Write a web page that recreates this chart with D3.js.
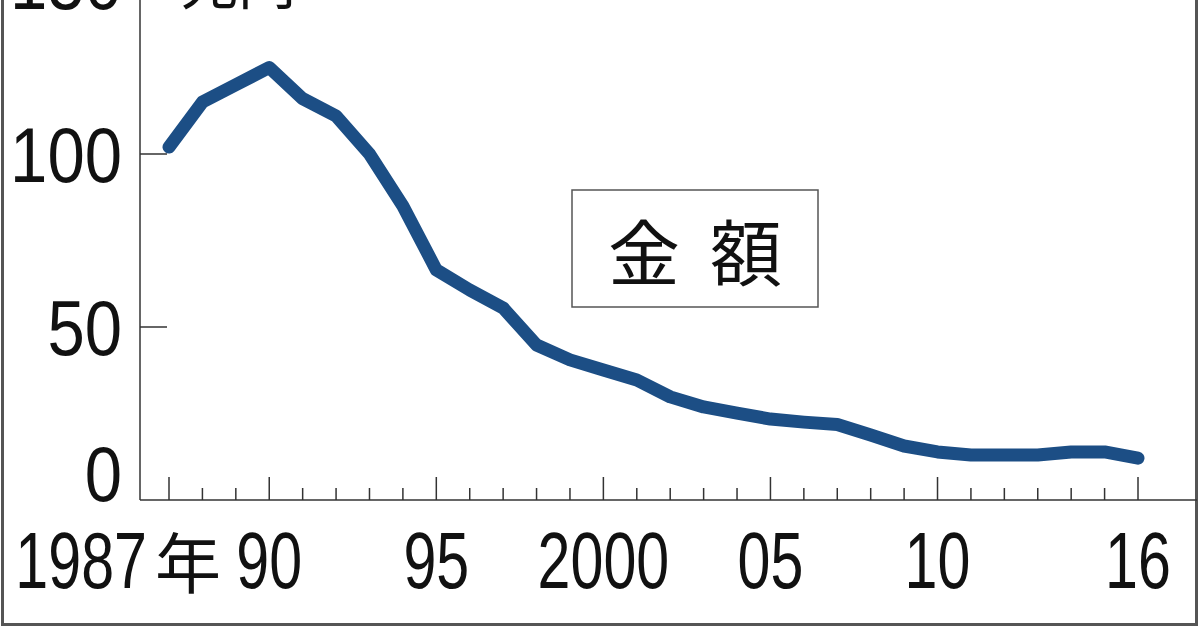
<!DOCTYPE html>
<html>
<head>
<meta charset="utf-8">
<script src="https://cdn.jsdelivr.net/npm/d3@7"></script>
<style>
  body { margin: 0; background: #fff; }
  svg { display: block; }
</style>
</head>
<body>
<div id="vis-container"></div>
<script>
// data (兆円)
const years = [1987, 1988, 1989, 1990, 1991, 1992, 1993, 1994, 1995, 1996,
  1997, 1998, 1999, 2000, 2001, 2002, 2003, 2004, 2005, 2006,
  2007, 2008, 2009, 2010, 2011, 2012, 2013, 2014, 2015, 2016];
const amounts = [102, 115, 120, 125, 116, 111, 100, 85, 66.5, 60.7,
  55.5, 44.8, 40.5, 37.6, 34.7, 29.8, 26.9, 25.1, 23.4, 22.5,
  21.8, 18.8, 15.6, 13.9, 13, 13, 13, 13.9, 13.9, 12.1];
const yTicks = [0, 50, 100, 150];
const majorYears = [1987, 1990, 1995, 2000, 2005, 2010, 2016];
const xLabels = ["1987年", "90", "95", "2000", "05", "10", "16"];
const unitLabel = "兆円";
const seriesLabel = "金額";

// set the dimensions of the graphic
var width = 1200,
  height = 628;

// no condensed face is installed, so digits get squeezed with scale()
var numFont = "'Liberation Sans', Arial, sans-serif";
var cjkFont = "'Noto Sans CJK JP', 'Noto Sans CJK SC', sans-serif";

var svg = d3
  .select("#vis-container")
  .append("svg")
  .attr("width", width)
  .attr("height", height);

// scales
var axisX = 140,
  axisY = 500;
var x = d3.scaleLinear().domain([1987, 2016]).range([169, 1138]);
var y = d3.scaleLinear().domain([0, 150]).range([axisY, -19]);

// outer frame (top is cut off)
svg
  .append("path")
  .attr("d", "M2.5,0 V" + (height - 3.5) + " H" + (width - 3.5) + " V0")
  .attr("fill", "none")
  .attr("stroke", "#555")
  .attr("stroke-width", 3);

// axis lines
svg
  .append("line")
  .attr("x1", axisX)
  .attr("x2", axisX)
  .attr("y1", 0)
  .attr("y2", axisY)
  .attr("stroke", "#333")
  .attr("stroke-width", 1.5);

svg
  .append("line")
  .attr("x1", axisX)
  .attr("x2", width - 3)
  .attr("y1", axisY)
  .attr("y2", axisY)
  .attr("stroke", "#333")
  .attr("stroke-width", 1.5);

// y ticks (inward) and labels
svg
  .selectAll(".ytick")
  .data(yTicks.filter((d) => d > 0))
  .enter()
  .append("line")
  .attr("class", "ytick")
  .attr("x1", axisX)
  .attr("x2", axisX + 27)
  .attr("y1", (d) => y(d))
  .attr("y2", (d) => y(d))
  .attr("stroke", "#333")
  .attr("stroke-width", 1.5);

svg
  .selectAll(".ylabel")
  .data(yTicks)
  .enter()
  .append("text")
  .attr("class", "ylabel")
  .attr("transform", (d) =>
    "translate(122," + (d === 0 ? axisY + 1 : y(d) + 28) + ") scale(0.86,1)"
  )
  .attr("text-anchor", "end")
  .style("font-family", numFont)
  .style("font-size", "78px")
  .attr("fill", "#111")
  .text((d) => d);

// unit label, mostly cut off at the top
svg
  .append("text")
  .attr("x", 180)
  .attr("y", 4)
  .style("font-family", cjkFont)
  .style("font-size", "58px")
  .attr("fill", "#111")
  .text(unitLabel);

// x ticks: long for labelled years, short otherwise
svg
  .selectAll(".xtick")
  .data(years)
  .enter()
  .append("line")
  .attr("class", "xtick")
  .attr("x1", (d) => x(d))
  .attr("x2", (d) => x(d))
  .attr("y1", axisY)
  .attr("y2", (d) => (majorYears.includes(d) ? axisY - 23 : axisY - 12))
  .attr("stroke", "#333")
  .attr("stroke-width", 1.5);

// x labels: number part squeezed, 年 suffix kept at normal width
var xl = svg
  .selectAll(".xlabel")
  .data(majorYears)
  .enter()
  .append("g")
  .attr("class", "xlabel")
  .attr("transform", (d) => "translate(" + x(d) + ",588)");

xl.each(function (d, i) {
  var m = xLabels[i].match(/^(\d+)(\D*)$/);
  var g = d3.select(this);
  var num = g
    .append("text")
    .attr("text-anchor", m[2] ? "end" : "middle")
    .attr("transform", (m[2] ? "translate(-22,0) " : "") + "scale(0.74,1)")
    .style("font-family", numFont)
    .style("font-size", "80px")
    .attr("fill", "#111")
    .text(m[1]);
  if (m[2]) {
    g.append("text")
      .attr("x", -14)
      .attr("y", 0)
      .style("font-family", cjkFont)
      .style("font-size", "66px")
      .attr("fill", "#111")
      .text(m[2]);
  }
});

// the series line
var line = d3
  .line()
  .x((d, i) => x(years[i]))
  .y((d) => y(d));

svg
  .append("path")
  .datum(amounts)
  .attr("d", line)
  .attr("fill", "none")
  .attr("stroke", "#1c4e85")
  .attr("stroke-width", 13)
  .attr("stroke-linejoin", "round")
  .attr("stroke-linecap", "round");

// boxed series label
svg
  .append("rect")
  .attr("x", 572)
  .attr("y", 190)
  .attr("width", 246)
  .attr("height", 117)
  .attr("fill", "#fff")
  .attr("stroke", "#555")
  .attr("stroke-width", 1.5);

svg
  .append("text")
  .attr("x", 695 + 15)
  .attr("y", 248)
  .attr("text-anchor", "middle")
  .attr("dominant-baseline", "central")
  .style("font-family", cjkFont)
  .style("font-size", "72px")
  .style("letter-spacing", "30px")
  .attr("fill", "#111")
  .text(seriesLabel);
</script>
</body>
</html>
